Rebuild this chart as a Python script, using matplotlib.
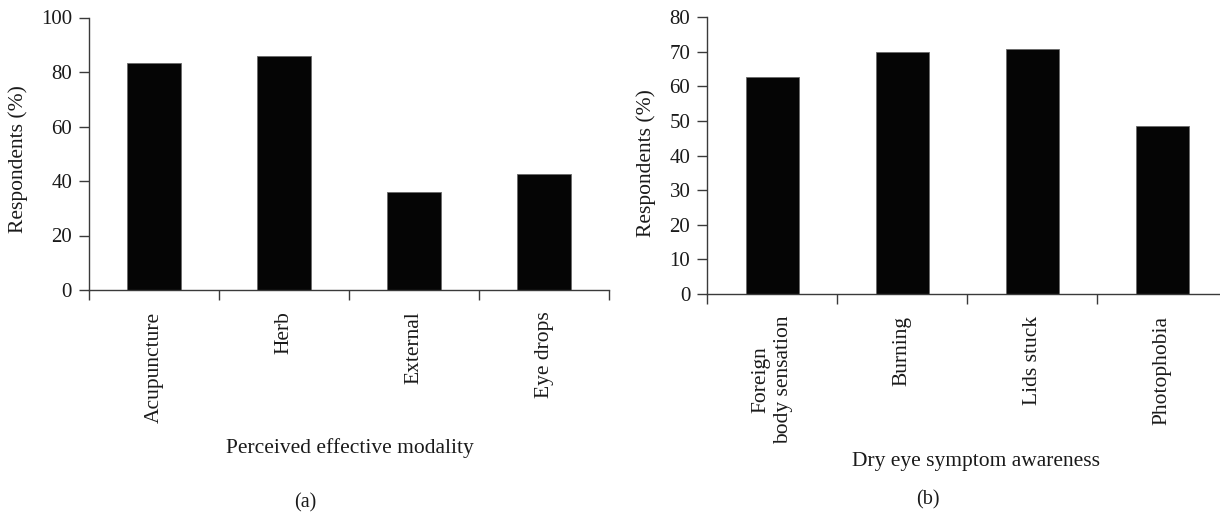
# Two bar panels: perceived effective modality (a) and dry eye symptom awareness (b)
import numpy as np
import matplotlib
matplotlib.use("Agg")
import matplotlib.pyplot as plt

plt.rcParams["font.family"] = ["Liberation Serif", "DejaVu Serif"]

# ---- data ----
modality_labels = ["Acupuncture", "Herb", "External", "Eye drops"]
modality_values = [83.2, 86.0, 36.0, 42.6]

symptom_labels = ["Foreign\nbody sensation", "Burning", "Lids stuck", "Photophobia"]
symptom_values = [62.6, 70.0, 70.8, 48.7]

W, H = 1220, 516
BAR_COLOR = "#050505"
AXIS_COLOR = "#3a3a3a"
TEXT_COLOR = "#1a1a1a"
FS = 15.5      # category / axis titles
FS_NUM = 15    # y tick numbers


def draw_panel(ax, labels, values, ymax, ystep, ylabel_x, ylabel_y, xlabel, xlabel_xy):
    pos = np.arange(len(values)) + 0.5
    ax.bar(pos, values, width=0.41, color=BAR_COLOR, edgecolor="#6a6a6a", linewidth=0.6)

    ax.set_xlim(0, len(values))
    ax.set_ylim(0, ymax)
    ax.set_yticks(np.arange(0, ymax + 1, ystep))

    # major ticks at category borders, labels on minor ticks under each bar
    ax.set_xticks(np.arange(len(values) + 1))
    ax.set_xticklabels([])
    ax.set_xticks(pos, minor=True)
    ax.set_xticklabels(labels, minor=True, rotation=90, multialignment="center",
                       fontsize=FS, color=TEXT_COLOR)
    ax.tick_params(axis="x", which="major", direction="out", length=7.2,
                   width=1.0, color=AXIS_COLOR)
    ax.tick_params(axis="x", which="minor", length=0, pad=15.5)
    ax.tick_params(axis="y", direction="out", length=7.2, width=1.0,
                   color=AXIS_COLOR, pad=5, labelsize=FS_NUM, labelcolor=TEXT_COLOR)

    for side in ["top", "right"]:
        ax.spines[side].set_visible(False)
    for side in ["left", "bottom"]:
        ax.spines[side].set_color(AXIS_COLOR)
        ax.spines[side].set_linewidth(1.0)

    ax.set_ylabel("Respondents (%)", fontsize=FS, color=TEXT_COLOR)
    ax.yaxis.set_label_coords(ylabel_x, ylabel_y)
    ax.set_xlabel(xlabel, fontsize=FS, color=TEXT_COLOR, va="center")
    ax.xaxis.set_label_coords(*xlabel_xy)


fig = plt.figure(figsize=(W / 100, H / 100), dpi=100)

ax_a = fig.add_axes([89 / W, 1 - 290 / H, 520 / W, 272.5 / H])
draw_panel(ax_a, modality_labels, modality_values, 100, 20,
           -0.117, 0.481, "Perceived effective modality", (0.502, -0.58))

ax_b = fig.add_axes([707.3 / W, 1 - 294 / H, 520 / W, 276.7 / H])
draw_panel(ax_b, symptom_labels, symptom_values, 80, 10,
           -0.099, 0.473, "Dry eye symptom awareness", (0.517, -0.607))

fig.text(305 / W, 1 - 503 / H, "(a)", ha="center", va="center", fontsize=14.5, color=TEXT_COLOR)
fig.text(927.5 / W, 1 - 500 / H, "(b)", ha="center", va="center", fontsize=14.5, color=TEXT_COLOR)

fig.savefig("out.png", dpi=100)
